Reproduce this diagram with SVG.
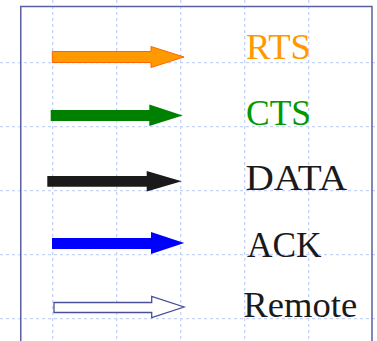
<svg xmlns="http://www.w3.org/2000/svg" width="377" height="341" viewBox="0 0 377 341">
  <style>
    .grid { stroke: #c6d4f5; stroke-width: 1.3; stroke-dasharray: 3 3; fill: none; }
    .frame { stroke: #5b5fa3; stroke-width: 1.5; fill: none; }
    .lbl { font-family: "Liberation Serif", "Times New Roman", serif; font-size: 36px; }
  </style>
  <rect width="377" height="341" fill="#ffffff"/>
  <g id="grid">
    <line class="grid" x1="52.7" y1="0" x2="52.7" y2="341"/>
    <line class="grid" x1="116.7" y1="0" x2="116.7" y2="341"/>
    <line class="grid" x1="180.7" y1="0" x2="180.7" y2="341"/>
    <line class="grid" x1="244.7" y1="0" x2="244.7" y2="341"/>
    <line class="grid" x1="308.7" y1="0" x2="308.7" y2="341"/>
    <line class="grid" x1="0" y1="62.7" x2="377" y2="62.7"/>
    <line class="grid" x1="0" y1="126.7" x2="377" y2="126.7"/>
    <line class="grid" x1="0" y1="190.7" x2="377" y2="190.7"/>
    <line class="grid" x1="0" y1="254.7" x2="377" y2="254.7"/>
    <line class="grid" x1="0" y1="318.7" x2="377" y2="318.7"/>
  </g>
  <path id="frame" class="frame" d="M20.75,341 V6.5 H372 V341"/>
  <g id="connectors"></g>
  <g id="rts">
    <polygon points="52.3,51.5 151,51.5 151,46.5 184,57 151,67.5 151,62.5 52.3,62.5" fill="#ff9900" stroke="#ff6600" stroke-width="1"/>
    <text class="lbl" x="246" y="59" fill="#ff9900" textLength="65" lengthAdjust="spacingAndGlyphs">RTS</text>
  </g>
  <g id="cts">
    <polygon points="50.7,110 149.3,110 149.3,104.5 182.7,115.5 149.3,126 149.3,121 50.7,121" fill="#008000"/>
    <text class="lbl" x="246" y="125" fill="#009900" textLength="65" lengthAdjust="spacingAndGlyphs">CTS</text>
  </g>
  <g id="data">
    <polygon points="47.3,176 146.7,176 146.7,171 181.7,181.2 146.7,191.5 146.7,186.7 47.3,186.7" fill="#1a1a1a"/>
    <text class="lbl" x="245.5" y="190" fill="#1a1a1a" textLength="101.5" lengthAdjust="spacingAndGlyphs">DATA</text>
  </g>
  <g id="ack">
    <polygon points="52,238 151,238 151,232 184.3,243 151,254 151,249 52,249" fill="#0000ff"/>
    <text class="lbl" x="247" y="256.5" fill="#1a1a1a" textLength="74.5" lengthAdjust="spacingAndGlyphs">ACK</text>
  </g>
  <g id="remote">
    <polygon points="54,302.5 151.7,302.5 151.7,296.5 184,307 151.7,317.5 151.7,312.5 54,312.5" fill="#ffffff" stroke="#4a4f9a" stroke-width="1.3"/>
    <text class="lbl" x="243.3" y="317.3" fill="#1a1a1a" textLength="114" lengthAdjust="spacingAndGlyphs">Remote</text>
  </g>
</svg>
